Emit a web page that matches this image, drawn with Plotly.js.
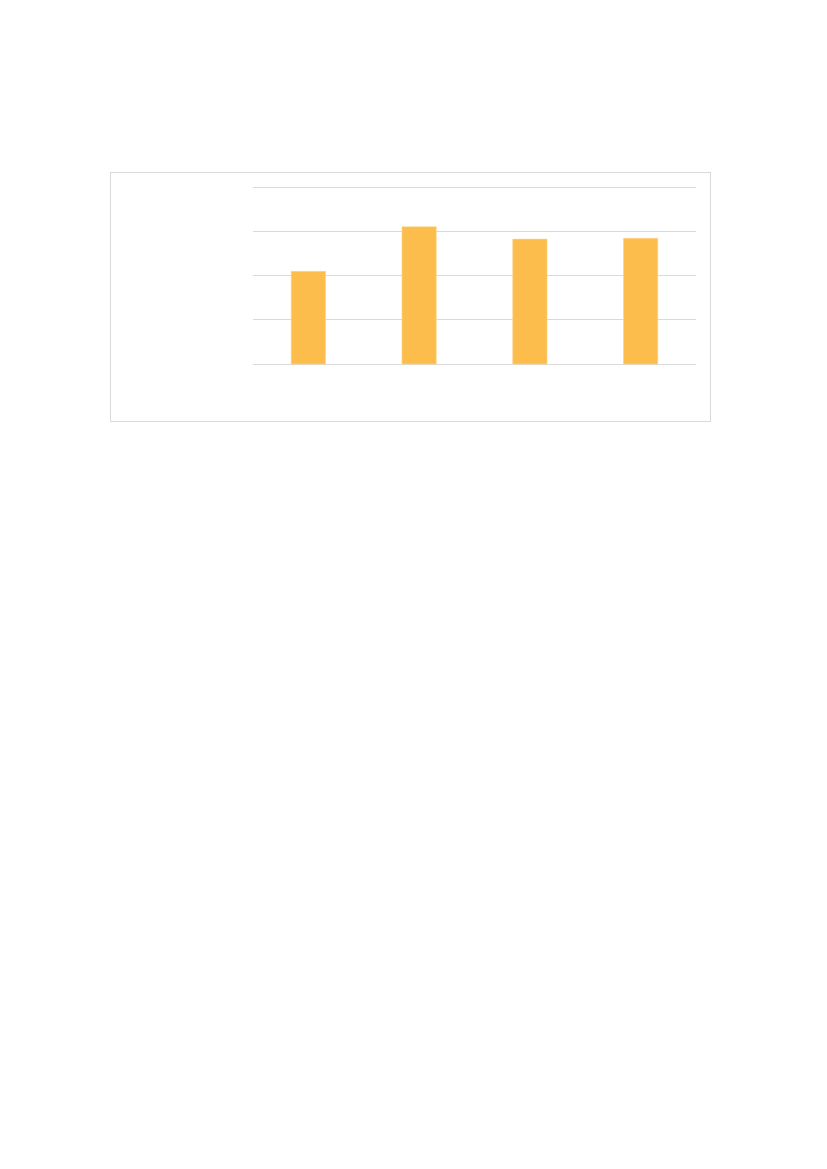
<!DOCTYPE html>
<html>
<head>
<meta charset="utf-8">
<script src="https://cdn.plot.ly/plotly-3.0.1.min.js"></script>
<style>
  body { margin: 0; background: #ffffff; }
  #plotarea {
    position: absolute;
    left: 110px;
    top: 172px;
    width: 599px;
    height: 248px;
    border: 1px solid #d9d9d9;
  }
</style>
</head>
<body>
<div id="plotarea"></div>
<script>
// category names are not printed in the picture, so ticks stay hidden
let categories = ['1', '2', '3', '4'];
let values = [2.1, 3.11, 2.83, 2.85];

let trace1 = {
    x: categories,
    y: values,
    type: 'bar',
    width: 0.31,
    marker: {color: '#fcbd4c', line: {color: '#fdd68e', width: 0.6}},
    hoverinfo: 'none'
};

let layout = {
    width: 599,
    height: 248,
    margin: {l: 142, r: 14, t: 10, b: 56},
    paper_bgcolor: '#ffffff',
    plot_bgcolor: '#ffffff',
    showlegend: false,
    xaxis: {
        type: 'category',
        showticklabels: false,
        showgrid: false,
        zeroline: false,
        showline: false,
        ticks: ''
    },
    yaxis: {
        // extra room on top, plotly drops a gridline sitting on the edge
        range: [-0.02, 4.1],
        tick0: 0,
        dtick: 1,
        showticklabels: false,
        gridcolor: '#d9d9d9',
        gridwidth: 1,
        zeroline: true,
        zerolinecolor: '#d9d9d9',
        zerolinewidth: 1,
        showline: false,
        ticks: ''
    }
};

Plotly.newPlot('plotarea', [trace1], layout, {displayModeBar: false, staticPlot: true});
</script>
</body>
</html>
